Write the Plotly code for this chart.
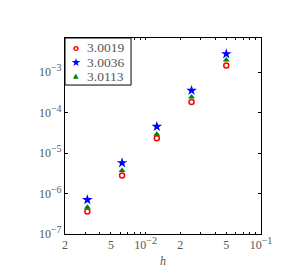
import plotly.graph_objects as go
import numpy as np

h = [3.125e-3, 6.25e-3, 1.25e-2, 2.5e-2, 5e-2]
err_a = [3.6e-7, 2.8e-6, 2.3e-5, 1.83e-4, 1.45e-3]   # 3.0019
err_b = [7.0e-7, 5.7e-6, 4.5e-5, 3.5e-4, 2.8e-3]     # 3.0036
err_c = [4.6e-7, 3.7e-6, 2.9e-5, 2.43e-4, 1.97e-3]   # 3.0113
names = ["3.0019", "3.0036", "3.0113"]
colors = ["red", "blue", "green"]
legend_glyphs = ["<b>o</b>", "★", "▲"]

x_tickvals = [2e-3, 5e-3, 1e-2, 2e-2, 5e-2, 1e-1]
x_ticktext = ["2", "5", "10<sup><span style='font-size:10px'>−2</span></sup>",
              "2", "5", "10<sup><span style='font-size:10px'>−1</span></sup>"]
x_minor_vals = [3e-3, 4e-3, 6e-3, 7e-3, 8e-3, 9e-3,
                3e-2, 4e-2, 6e-2, 7e-2, 8e-2, 9e-2]
y_tickvals = [1e-7, 1e-6, 1e-5, 1e-4, 1e-3]
y_ticktext = ["10<sup><span style='font-size:10px'>−%d</span></sup>" % k
              for k in [7, 6, 5, 4, 3]]

font = "Liberation Serif, DejaVu Serif, serif"
grey = "#555555"

fig = go.Figure()
fig.add_trace(go.Scatter(x=h, y=err_a, mode="markers", name=names[0],
                         marker=dict(symbol="circle-open", size=5, color=colors[0],
                                     line=dict(width=1.5, color=colors[0]))))
fig.add_trace(go.Scatter(x=h, y=err_b, mode="markers", name=names[1],
                         marker=dict(symbol="star", size=8, color=colors[1],
                                     line=dict(width=0))))
fig.add_trace(go.Scatter(x=h, y=err_c, mode="markers", name=names[2],
                         marker=dict(symbol="triangle-up", size=6, color=colors[2],
                                     line=dict(width=0))))

# compact legend (box + glyphs + labels)
fig.add_shape(type="rect", xref="paper", yref="paper",
              x0=0, x1=0.337, y0=0.76, y1=1,
              line=dict(color="black", width=1), fillcolor="white", layer="above")
row_y = [0.949, 0.877, 0.806]
glyph_sizes = [9, 11, 7]
for i in range(3):
    fig.add_annotation(xref="paper", yref="paper", x=0.054, y=row_y[i],
                       text=legend_glyphs[i], showarrow=False,
                       xanchor="center", yanchor="middle",
                       font=dict(family="DejaVu Sans", size=glyph_sizes[i], color=colors[i]))
    fig.add_annotation(xref="paper", yref="paper", x=0.1, y=row_y[i],
                       text=names[i], showarrow=False,
                       xanchor="left", yanchor="middle",
                       font=dict(family=font, size=13.5, color=grey))

fig.add_annotation(xref="paper", yref="paper", x=0.5, y=-0.138,
                   text="<i>h</i>", showarrow=False,
                   xanchor="center", yanchor="middle",
                   font=dict(family=font, size=12, color=grey))

fig.update_layout(
    width=289, height=273,
    margin=dict(l=57, r=36, t=30, b=47),
    paper_bgcolor="white", plot_bgcolor="white",
    font=dict(family=font, size=12, color=grey),
    showlegend=False,
    xaxis=dict(type="log", range=[np.log10(2e-3), -1],
               tickvals=x_tickvals, ticktext=x_ticktext,
               ticks="inside", ticklen=2, tickcolor="black",
               tickfont=dict(family=font, size=12, color=grey),
               minor=dict(tickvals=x_minor_vals, ticks="inside", ticklen=2,
                          tickcolor="black", showgrid=False),
               showline=True, linecolor="black", linewidth=1, mirror="ticks",
               showgrid=False, zeroline=False),
    yaxis=dict(type="log", range=[-7, -2.16],
               tickvals=y_tickvals, ticktext=y_ticktext,
               ticks="inside", ticklen=3, tickcolor="black",
               tickfont=dict(family=font, size=12, color=grey),
               showline=True, linecolor="black", linewidth=1, mirror="ticks",
               showgrid=False, zeroline=False),
)

fig.write_html("out.html")
